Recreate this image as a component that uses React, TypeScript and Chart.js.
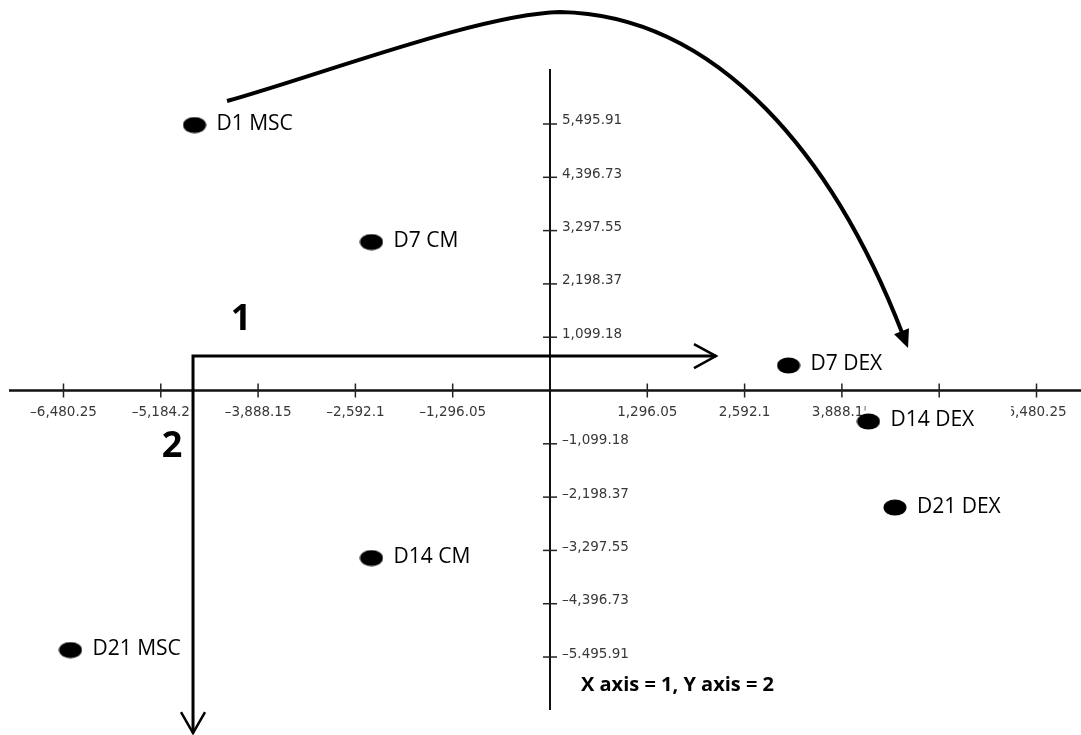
import React, { useEffect, useRef } from "react";
import { Chart, registerables } from "chart.js";

Chart.register(...registerables);

// ---- data ----
const pointLabels = ["D1 MSC", "D7 CM", "D14 CM", "D21 MSC", "D7 DEX", "D14 DEX", "D21 DEX"];
const xValues = [-4735, -2378, -2378, -6387, 3177, 4242, 4595];
const yValues = [5475, 3062, -3454, -5352, 516, -639, -2413];

const xTicks = [-6480.25, -5184.2, -3888.15, -2592.1, -1296.05, 1296.05, 2592.1, 3888.15, 5184.2, 6480.25];
const xTickLabels = ["–6,480.25", "–5,184.2", "–3,888.15", "–2,592.1", "–1,296.05", "1,296.05", "2,592.1", "3,888.15", "5,184.2", "6,480.25"];
const yTicks = [5495.91, 4396.73, 3297.55, 2198.37, 1099.18, -1099.18, -2198.37, -3297.55, -4396.73, -5495.91];
const yTickLabels = ["5,495.91", "4,396.73", "3,297.55", "2,198.37", "1,099.18", "–1,099.18", "–2,198.37", "–3,297.55", "–4,396.73", "–5.495.91"];

// scale extents (data units)
const xMin = -7326;
const xMax = 7073;
const yMin = -7104;
const yMax = 8053;
const xAxisExtent = [-7206, 7073];
const yAxisExtent = [-6589, 6630];

// annotation arrows (data units)
const arrowCorner = { x: -4755, y: 711 };
const arrow1Tip = { x: 2211, y: 711 };
const arrow2Tip = { x: -4755, y: -7063 };
const curveStart = { x: -4302, y: 5970 };
const curveSeg1 = [{ x: -3064, y: 6506 }, { x: -932, y: 7764 }, { x: 133, y: 7806 }];
const curveSeg2 = [{ x: 2264, y: 7744 }, { x: 3796, y: 4753 }, { x: 4769, y: 876 }];
const annotationTexts = ["1", "2", "X axis = 1, Y axis = 2"];
const annotationPos = [{ x: -4116, y: 1454 }, { x: -5035, y: -1165 }, { x: 413, y: -6073 }];

export default function App() {
  const ref = useRef<HTMLCanvasElement>(null);

  useEffect(() => {
    const canvas = ref.current;
    if (!canvas) return;

    const marker = document.createElement("canvas");
    marker.width = 24;
    marker.height = 17;
    const mctx = marker.getContext("2d")!;
    mctx.fillStyle = "#000";
    mctx.beginPath();
    mctx.ellipse(12, 8.5, 11.5, 8, 0, 0, Math.PI * 2);
    mctx.fill();

    const labelFont = "21px 'Open Sans'";

    const plugin = {
      id: "pcaDecor",
      beforeDatasetsDraw(chart: any) {
        const ctx: CanvasRenderingContext2D = chart.ctx;
        const xs = chart.scales.x;
        const ys = chart.scales.y;
        const px = (v: number) => xs.getPixelForValue(v);
        const py = (v: number) => ys.getPixelForValue(v);
        const x0 = px(0);
        const y0 = py(0);
        ctx.save();
        ctx.strokeStyle = "#111";
        // x axis
        ctx.lineWidth = 2.5;
        ctx.beginPath();
        ctx.moveTo(px(xAxisExtent[0]), y0);
        ctx.lineTo(px(xAxisExtent[1]), y0);
        ctx.stroke();
        // y axis
        ctx.lineWidth = 2;
        ctx.beginPath();
        ctx.moveTo(x0, py(yAxisExtent[1]));
        ctx.lineTo(x0, py(yAxisExtent[0]));
        ctx.stroke();
        // ticks
        ctx.lineWidth = 1.5;
        ctx.strokeStyle = "#222";
        xTicks.forEach((t) => {
          const x = px(t);
          ctx.beginPath();
          ctx.moveTo(x, y0 - 7);
          ctx.lineTo(x, y0 + 7);
          ctx.stroke();
        });
        yTicks.forEach((t) => {
          const y = py(t);
          ctx.beginPath();
          ctx.moveTo(x0 - 7, y);
          ctx.lineTo(x0 + 7, y);
          ctx.stroke();
        });
        // tick labels
        ctx.fillStyle = "#383838";
        ctx.font = "13.5px 'DejaVu Sans'";
        ctx.textAlign = "center";
        ctx.textBaseline = "middle";
        xTicks.forEach((t, i) => {
          ctx.fillText(xTickLabels[i], px(t), y0 + 22);
        });
        ctx.textAlign = "left";
        yTicks.forEach((t, i) => {
          ctx.fillText(yTickLabels[i], x0 + 12, py(t) - 3);
        });
        // white boxes behind point labels
        ctx.font = labelFont;
        ctx.fillStyle = "#fff";
        const meta = chart.getDatasetMeta(0);
        meta.data.forEach((el: any, i: number) => {
          const w = ctx.measureText(pointLabels[i]).width;
          const left = el.x - 3;
          const right = el.x + 22 + w + 37;
          ctx.fillRect(left, el.y - 17, right - left, 31);
        });
        ctx.restore();
      },
      afterDatasetsDraw(chart: any) {
        const ctx: CanvasRenderingContext2D = chart.ctx;
        const xs = chart.scales.x;
        const ys = chart.scales.y;
        const px = (v: number) => xs.getPixelForValue(v);
        const py = (v: number) => ys.getPixelForValue(v);
        ctx.save();
        ctx.strokeStyle = "#000";
        ctx.fillStyle = "#000";
        ctx.lineCap = "butt";
        ctx.lineJoin = "miter";
        // axis arrows 1 and 2
        const cx = px(arrowCorner.x);
        const cy = py(arrowCorner.y);
        const t1x = px(arrow1Tip.x);
        const t2y = py(arrow2Tip.y);
        ctx.lineWidth = 3;
        ctx.beginPath();
        ctx.moveTo(t1x, cy);
        ctx.lineTo(cx, cy);
        ctx.lineTo(cx, t2y);
        ctx.stroke();
        ctx.lineWidth = 2.5;
        ctx.beginPath();
        ctx.moveTo(t1x - 22, cy - 12);
        ctx.lineTo(t1x, cy);
        ctx.lineTo(t1x - 22, cy + 12);
        ctx.stroke();
        ctx.beginPath();
        ctx.moveTo(cx - 12, t2y - 21);
        ctx.lineTo(cx, t2y);
        ctx.lineTo(cx + 12, t2y - 21);
        ctx.stroke();
        // curved arrow
        const s1 = curveSeg1.map((p) => [px(p.x), py(p.y)]);
        const s2 = curveSeg2.map((p) => [px(p.x), py(p.y)]);
        const end = s2[2];
        const ctrl = s2[1];
        const dx = end[0] - ctrl[0];
        const dy = end[1] - ctrl[1];
        const len = Math.hypot(dx, dy);
        const ux = dx / len;
        const uy = dy / len;
        const headLen = 18;
        const bx = end[0] - ux * headLen;
        const by = end[1] - uy * headLen;
        ctx.lineWidth = 4;
        ctx.beginPath();
        ctx.moveTo(px(curveStart.x), py(curveStart.y));
        ctx.bezierCurveTo(s1[0][0], s1[0][1], s1[1][0], s1[1][1], s1[2][0], s1[2][1]);
        ctx.bezierCurveTo(s2[0][0], s2[0][1], s2[1][0], s2[1][1], bx + ux * 2, by + uy * 2);
        ctx.stroke();
        ctx.beginPath();
        ctx.moveTo(end[0], end[1]);
        ctx.lineTo(bx - uy * 8, by + ux * 8);
        ctx.lineTo(bx + uy * 8, by - ux * 8);
        ctx.closePath();
        ctx.fill();
        // point labels
        ctx.font = labelFont;
        ctx.textAlign = "left";
        ctx.textBaseline = "middle";
        const meta = chart.getDatasetMeta(0);
        meta.data.forEach((el: any, i: number) => {
          ctx.fillText(pointLabels[i], el.x + 22, el.y - 1);
        });
        // annotations
        ctx.textAlign = "center";
        ctx.font = "bold 36px 'Open Sans'";
        ctx.fillText(annotationTexts[0], px(annotationPos[0].x), py(annotationPos[0].y));
        ctx.fillText(annotationTexts[1], px(annotationPos[1].x), py(annotationPos[1].y));
        ctx.textAlign = "left";
        ctx.font = "bold 20px 'Open Sans'";
        ctx.fillText(annotationTexts[2], px(annotationPos[2].x), py(annotationPos[2].y), 202);
        ctx.restore();
      },
    };

    const chart = new Chart(canvas, {
      type: "scatter",
      data: {
        datasets: [
          {
            label: "PCA",
            data: xValues.map((x, i) => ({ x, y: yValues[i] })),
            pointStyle: marker as any,
            backgroundColor: "#000",
            borderColor: "#000",
            pointRadius: 10,
          },
        ],
      },
      options: {
        animation: false,
        responsive: false,
        events: [],
        layout: { padding: 0, autoPadding: false },
        plugins: { legend: { display: false }, tooltip: { enabled: false } },
        scales: {
          x: { type: "linear", display: false, min: xMin, max: xMax },
          y: { type: "linear", display: false, min: yMin, max: yMax },
        },
      },
      plugins: [plugin],
    });

    return () => chart.destroy();
  }, []);

  return (
    <div style={{ position: "fixed", left: 0, top: 0, width: 1081, height: 735, background: "#fff" }}>
      <canvas ref={ref} width={1081} height={735} style={{ display: "block" }} />
    </div>
  );
}
